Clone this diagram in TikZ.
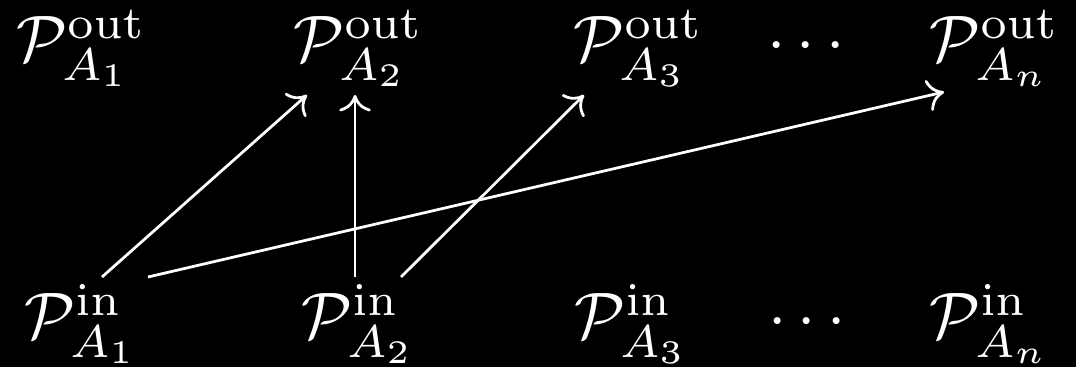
\documentclass[tikz,border=0pt]{standalone}
\usetikzlibrary{arrows.meta}
\begin{document}
\begin{tikzpicture}[x=0.152pt,y=-0.152pt,
  lbl/.style={text=white, inner sep=0pt, anchor=base west},
  dotsnode/.style={text=white, inner sep=0pt, anchor=center},
  arr/.style={-{To[length=2.5pt,width=4.8pt]}, white, line width=0.42pt}]
\fill[black] (0,0) rectangle (1076,367);
\useasboundingbox (0,0) rectangle (1076,367);
% top row
\node[lbl] (out1) at (15,62) {$\mathcal{P}^{\mathrm{out}}_{A_1}$};
\node[lbl] (out2) at (292,62) {$\mathcal{P}^{\mathrm{out}}_{A_2}$};
\node[lbl] (out3) at (572,62) {$\mathcal{P}^{\mathrm{out}}_{A_3}$};
\node[dotsnode] (outd) at (806,47) {$\cdots$};
\node[lbl] (outn) at (928,62) {$\mathcal{P}^{\mathrm{out}}_{A_n}$};
% bottom row
\node[lbl] (in1) at (23,339) {$\mathcal{P}^{\mathrm{in}}_{A_1}$};
\node[lbl] (in2) at (300,339) {$\mathcal{P}^{\mathrm{in}}_{A_2}$};
\node[lbl] (in3) at (573,339) {$\mathcal{P}^{\mathrm{in}}_{A_3}$};
\node[dotsnode] (ind) at (807,323) {$\cdots$};
\node[lbl] (inn) at (928,339) {$\mathcal{P}^{\mathrm{in}}_{A_n}$};
% arrows
\draw[arr] ([shift={(79,-62)}]in1.base west) -- ([shift={(15,33)}]out2.base west);
\draw[arr] ([shift={(125,-62)}]in1.base west) -- ([shift={(16,30)}]outn.base west);
\draw[arr] ([shift={(55,-62)}]in2.base west) -- ([shift={(63,33)}]out2.base west);
\draw[arr] ([shift={(101,-62)}]in2.base west) -- ([shift={(12,33)}]out3.base west);
\end{tikzpicture}
\end{document}
